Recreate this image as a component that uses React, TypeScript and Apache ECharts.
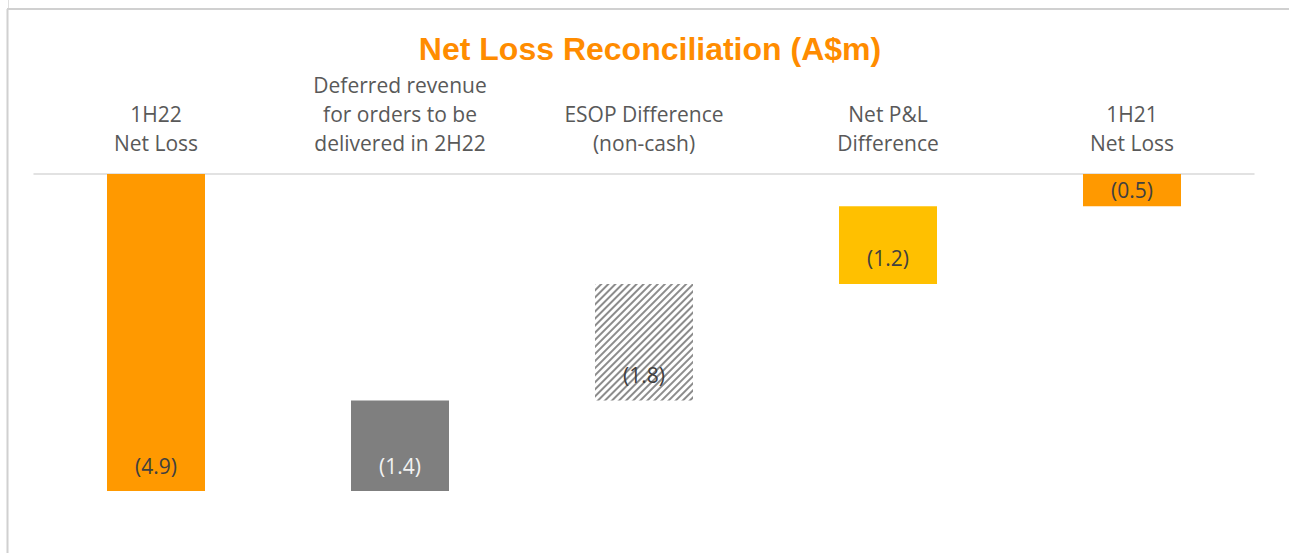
import React, { useEffect, useRef } from "react";
import * as echarts from "echarts";

const categories = [
  "1H22\nNet Loss",
  "Deferred revenue\nfor orders to be\ndelivered in 2H22",
  "ESOP Difference\n(non-cash)",
  "Net P&L\nDifference",
  "1H21\nNet Loss",
];
const values = [4.9, 1.4, 1.8, 1.2, 0.5];
const kinds = ["total", "delta", "delta", "delta", "total"];
const barColors = ["#FF9900", "#7F7F7F", "hatch", "#FFC000", "#FF9900"];
const labelColors = ["#404040", "#F2F2F2", "#404040", "#404040", "#404040"];
const titleText = "Net Loss Reconciliation (A$m)";

export default function App() {
  const ref = useRef<HTMLDivElement>(null);
  useEffect(() => {
    if (!ref.current) return;
    const chart = echarts.init(ref.current, undefined, { renderer: "svg" });
    // waterfall base: running total from the first total
    const base: number[] = [];
    let running = 0;
    values.forEach((v, i) => {
      if (kinds[i] === "total") {
        base.push(0);
        running = v;
      } else {
        running = running - v;
        base.push(running);
      }
    });
    const font = "'Open Sans', sans-serif";
    const data = values.map((v, i) => {
      const hatch = barColors[i] === "hatch";
      return {
        value: v,
        itemStyle: hatch
          ? {
              color: "#ffffff",
              decal: {
                symbol: "rect",
                dashArrayX: [1, 0],
                dashArrayY: [1.2, 2.4],
                rotation: -Math.PI / 4,
                color: "#8C8C8C",
                backgroundColor: "#ffffff",
              },
            }
          : { color: barColors[i] },
        label: {
          color: labelColors[i],
          position: v < 0.8 ? "inside" : "insideBottom",
          distance: 15,
        },
      };
    });
    chart.setOption({
      animation: false,
      backgroundColor: "#ffffff",
      title: {
        text: titleText,
        left: 650,
        textAlign: "center",
        top: 33,
        padding: 0,
        textStyle: {
          color: "#FF8C00",
          fontSize: 32,
          fontWeight: "bold",
          fontFamily: "'Liberation Sans', Arial, sans-serif",
        },
      },
      graphic: [
        { type: "line", shape: { x1: 7.5, y1: 9, x2: 7.5, y2: 553 }, style: { stroke: "#D0D0D0", lineWidth: 2 } },
        { type: "line", shape: { x1: 7, y1: 9, x2: 1289, y2: 9 }, style: { stroke: "#D0D0D0", lineWidth: 2 } },
        { type: "line", shape: { x1: 8.5, y1: 0, x2: 8.5, y2: 8 }, style: { stroke: "#E0E0E0", lineWidth: 1 } },
      ],
      grid: { left: 34, right: 35, top: 174, height: 323.5, containLabel: false },
      xAxis: {
        type: "category",
        position: "top",
        data: categories,
        axisLine: { show: true, lineStyle: { color: "#D9D9D9", width: 1.5 } },
        axisTick: { show: false },
        axisLabel: {
          color: "#595959",
          fontSize: 21,
          lineHeight: 29,
          margin: 17,
          fontFamily: font,
          interval: 0,
        },
      },
      yAxis: {
        type: "value",
        inverse: true,
        min: 0,
        max: 5,
        show: false,
        splitLine: { show: false },
      },
      series: [
        {
          type: "bar",
          stack: "w",
          data: base,
          itemStyle: { color: "transparent" },
          barWidth: 98,
          silent: true,
        },
        {
          type: "bar",
          stack: "w",
          data,
          barWidth: 98,
          label: {
            show: true,
            fontSize: 21,
            fontFamily: font,
            formatter: (p: any) => "(" + Number(p.value).toFixed(1) + ")",
          },
        },
      ],
    });
    return () => chart.dispose();
  }, []);
  return (
    <div
      ref={ref}
      style={{ position: "absolute", left: 0, top: 0, width: 1289, height: 553 }}
    />
  );
}
